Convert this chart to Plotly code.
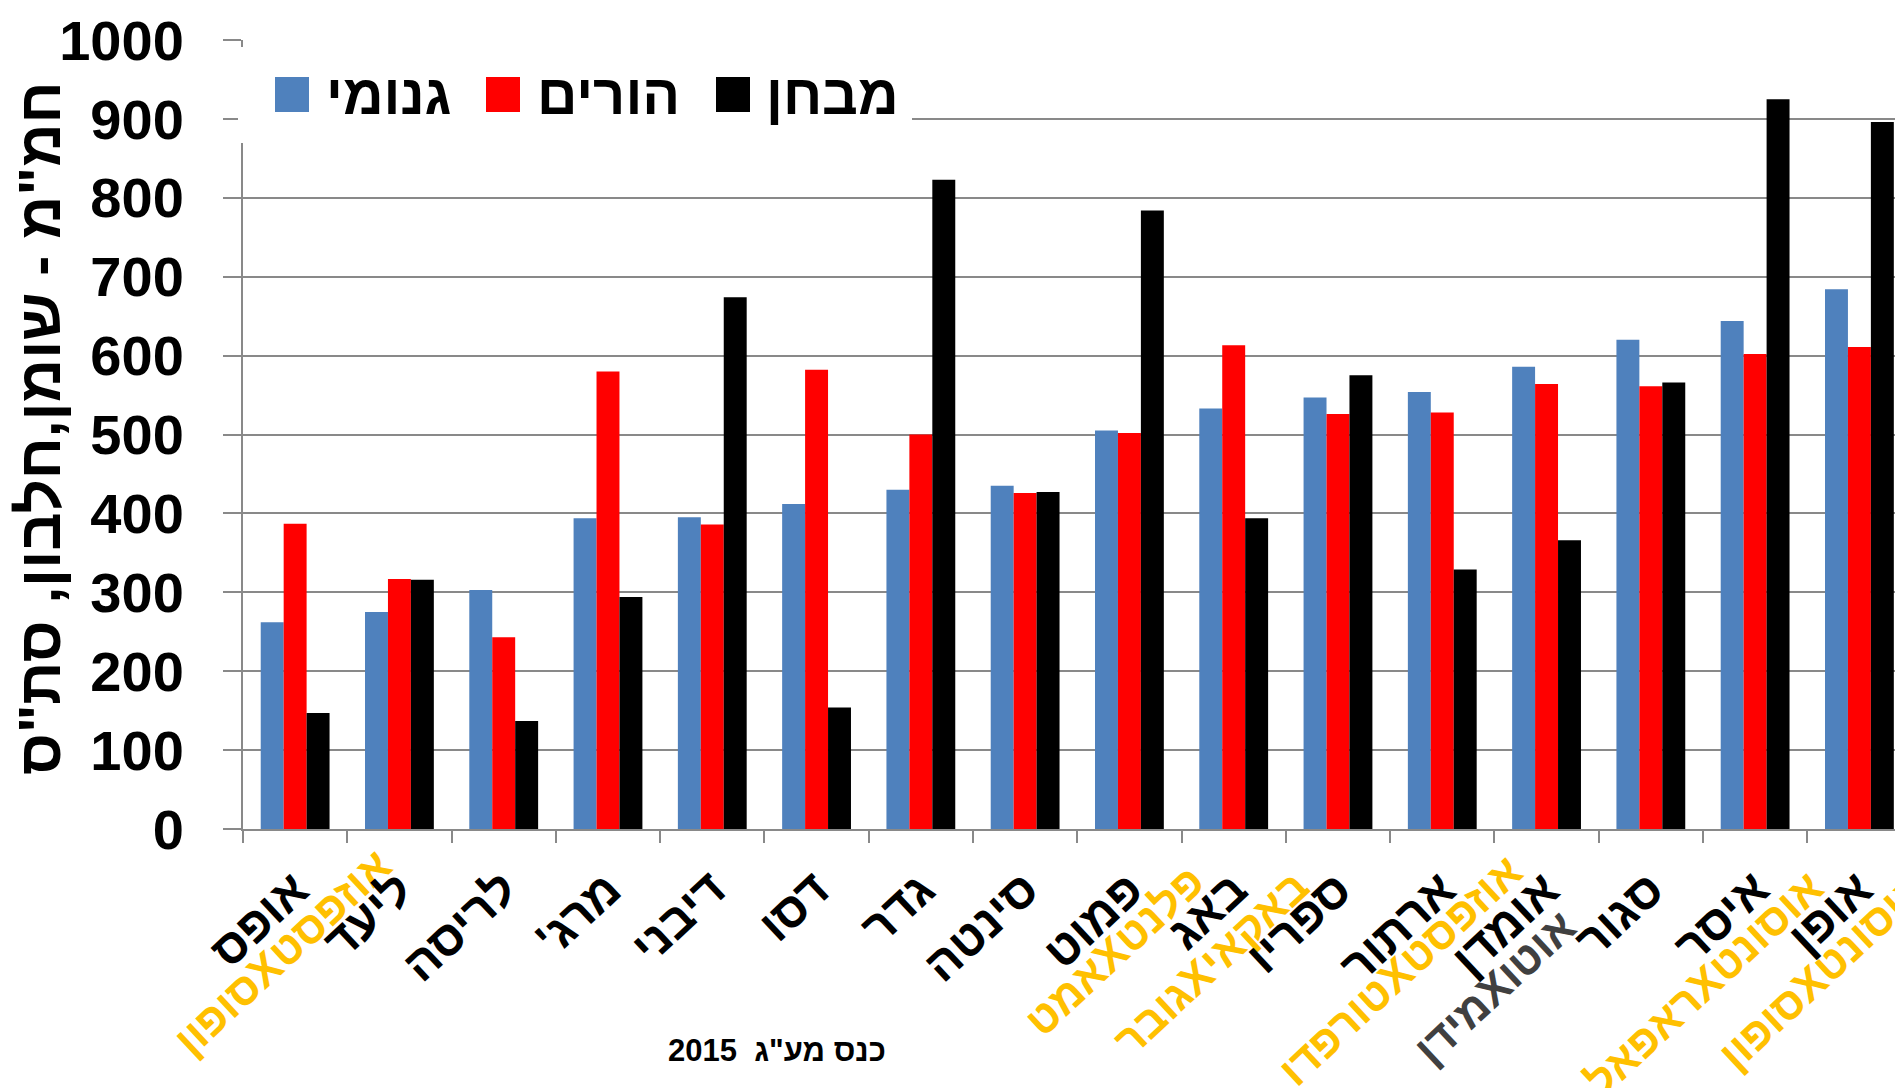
import plotly.graph_objects as go

# ---------------- data ----------------
categories = ["אופס", "ליעד", "לריסה", "מרג'", "דיבני", "דסו", "גדר", "סינטה",
              "פמוט", "באג", "ספריו", "ארתור", "אומדן", "סגור", "איסר", "אופן"]
sub_labels = ["אוזפסטXסופון", "", "", "", "", "", "", "",
              "פלנטXאמט", "באקאיXגובר", "", "אוזפסטXטורפדו", "אוטוXמידן", "",
              "אוסונטXראפאל", "אוסונטXסופון"]
sub_label_colors = ["#FFC000", "", "", "", "", "", "", "",
                    "#FFC000", "#FFC000", "", "#FFC000", "#404040", "",
                    "#FFC000", "#FFC000"]

series_names = ["גנומי", "הורים", "מבחן"]
series_colors = ["#4F81BD", "#FF0000", "#000000"]
genomic = [262, 275, 303, 394, 395, 412, 430, 435, 505, 533, 547, 554, 586, 620, 644, 684]
parents = [387, 317, 243, 580, 386, 582, 500, 426, 502, 613, 526, 528, 564, 561, 602, 611]
test    = [147, 316, 137, 294, 674, 154, 823, 427, 784, 394, 575, 329, 366, 566, 925, 896]
series_values = [genomic, parents, test]

y_ticks = list(range(0, 1001, 100))
y_title = 'חמ"מ - שומן,חלבון, סת"ס'
footnote = 'כנס מע"ג\u00a0\u00a02015'

# ---------------- layout constants ----------------
# the page body has an 8px margin, so the figure is made 8px smaller
OFF = 8
W, H = 1903 - OFF, 1088 - OFF
ML, MR, MT, MB = 243 - OFF, 0, 40 - OFF, 259
PW = W - ML - MR
PH = H - MT - MB
FONT = "Arial, 'Liberation Sans', 'DejaVu Sans', sans-serif"
GRID = "#898989"
LBL_FS = 48
SUB_FS = 44
LBL_ANGLE = -43
RLE, PDF = "\u202b", "\u202c"

# offsets (px) of each second label line's end relative to the first line's end
sub_label_shift = {0: (82, -22), 8: (61, -6), 9: (62, -1), 11: (66, -16),
                   12: (15, 40), 14: (54, 0), 15: (54, 0)}

def px_x(p):   # screen px -> paper
    return (p - OFF - ML) / PW

def px_y(p):
    return (OFF + H - MB - p) / PH

fig = go.Figure()
for name, vals, col in zip(series_names, series_values, series_colors):
    fig.add_trace(go.Bar(x=categories, y=vals, name=name, marker_color=col,
                         marker_line_width=0, showlegend=False))

annotations = []
shapes = []

# x-axis category labels (rotated; black first line + coloured second line)
X0, Y0 = 26, -30
for i, (cat, sub, scol) in enumerate(zip(categories, sub_labels, sub_label_colors)):
    annotations.append(dict(x=cat, xref="x", y=0, yref="paper", text=RLE + cat + PDF,
                            textangle=LBL_ANGLE, xanchor="right", yanchor="top",
                            xshift=X0, yshift=Y0, showarrow=False,
                            font=dict(family=FONT, size=LBL_FS, color="black", weight="bold")))
    if sub:
        dx, dy = sub_label_shift[i]
        annotations.append(dict(x=cat, xref="x", y=0, yref="paper", text=RLE + sub + PDF,
                                textangle=LBL_ANGLE, xanchor="right", yanchor="top",
                                xshift=X0 + dx, yshift=Y0 - dy, showarrow=False,
                                font=dict(family=FONT, size=SUB_FS, color=scol, weight="bold")))

# y-axis title
annotations.append(dict(x=px_x(40), xref="paper", y=px_y(429), yref="paper",
                        text=RLE + y_title + PDF, textangle=-90, showarrow=False,
                        xanchor="center", yanchor="middle",
                        font=dict(family=FONT, size=60, color="black", weight="bold")))

# footnote
annotations.append(dict(x=px_x(777), xref="paper", y=px_y(1050), yref="paper",
                        text=RLE + footnote + PDF, showarrow=False,
                        xanchor="center", yanchor="middle",
                        font=dict(family=FONT, size=31, color="black", weight="bold")))

# custom legend (white box, big squares, text)
shapes.append(dict(type="rect", xref="paper", yref="paper", x0=px_x(238), x1=px_x(912),
                   y0=px_y(143), y1=px_y(47), fillcolor="white", line_width=0, layer="above"))
sq_left = [275, 486, 716]
txt_left = [324, 535, 764]
for name, col, sx, tx in zip(series_names, series_colors, sq_left, txt_left):
    shapes.append(dict(type="rect", xref="paper", yref="paper", x0=px_x(sx), x1=px_x(sx + 34),
                       y0=px_y(112), y1=px_y(77), fillcolor=col, line_width=0, layer="above"))
    annotations.append(dict(x=px_x(tx), xref="paper", y=px_y(94), yref="paper",
                            text=name, showarrow=False, xanchor="left", yanchor="middle",
                            font=dict(family=FONT, size=56, color="black", weight="bold")))

fig.update_layout(
    width=W, height=H,
    margin=dict(l=ML, r=MR, t=MT, b=MB, pad=0, autoexpand=False),
    paper_bgcolor="white", plot_bgcolor="white",
    barmode="group", bargap=0.34, bargroupgap=0,
    showlegend=False,
    annotations=annotations, shapes=shapes,
    xaxis=dict(type="category", range=[-0.5, 15.418], showticklabels=False, automargin=False,
               tickson="boundaries", ticks="outside", ticklen=12, tickwidth=2, tickcolor=GRID,
               showline=True, linecolor=GRID, linewidth=2, showgrid=False, fixedrange=True),
    yaxis=dict(range=[0, 1000], tickvals=y_ticks, ticktext=[str(v) for v in y_ticks],
               automargin=False,
               ticks="outside", ticklen=18, tickwidth=2, tickcolor=GRID,
               showline=True, linecolor=GRID, linewidth=2,
               showgrid=True, gridcolor=GRID, gridwidth=2, zeroline=False,
               ticklabelstandoff=28,
               tickfont=dict(family=FONT, size=56, color="black", weight="bold")),
)

fig.write_html("out.html")
